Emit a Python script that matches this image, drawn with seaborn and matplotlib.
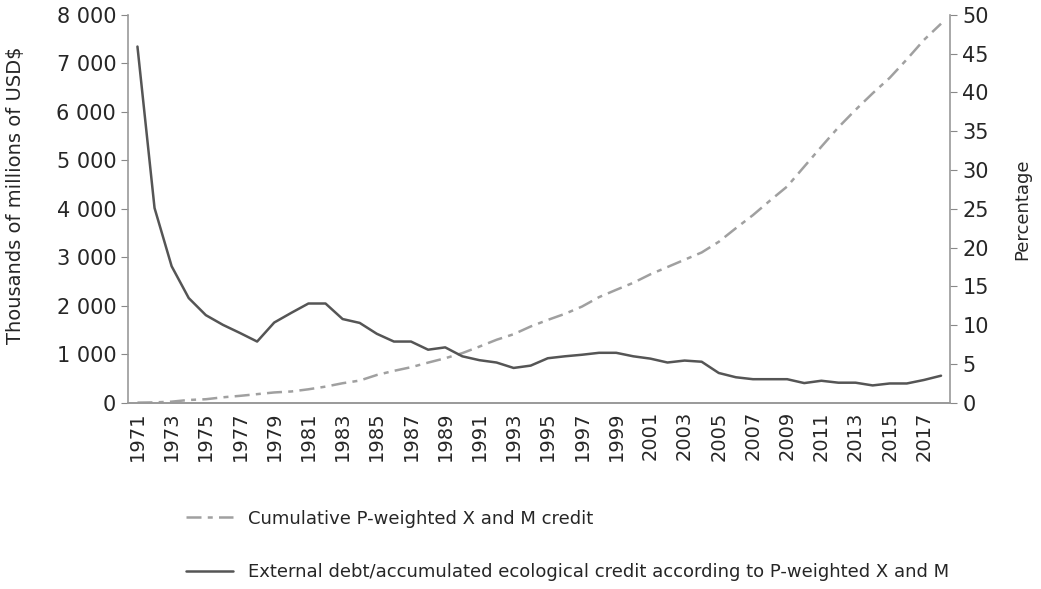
import seaborn as sns
import matplotlib.pyplot as plt
from matplotlib.ticker import FuncFormatter, MultipleLocator
import pandas as pd

# datos
years = list(range(1971, 2019))
cum_credit = [5, 10, 25, 60, 75, 115, 145, 180, 215, 235,
              280, 335, 405, 460, 575, 660, 735, 830, 920, 1025,
              1160, 1300, 1415, 1575, 1710, 1835, 1985, 2180, 2330, 2475,
              2650, 2800, 2950, 3100, 3320, 3600, 3870, 4170, 4460, 4870,
              5280, 5680, 6040, 6380, 6700, 7080, 7480, 7815]
debt_ratio = [45.9, 25.1, 17.6, 13.5, 11.3, 10.05, 9.0, 7.9, 10.35, 11.6,
              12.8, 12.8, 10.8, 10.3, 8.9, 7.9, 7.9, 6.85, 7.15, 6.0,
              5.5, 5.2, 4.5, 4.8, 5.75, 6.0, 6.2, 6.45, 6.45, 6.0,
              5.7, 5.2, 5.45, 5.3, 3.85, 3.3, 3.05, 3.05, 3.05, 2.55,
              2.85, 2.6, 2.6, 2.25, 2.5, 2.5, 2.95, 3.5]
label_cum = "Cumulative P-weighted X and M credit"
label_debt = "External debt/accumulated ecological credit according to P-weighted X and M"

df = pd.DataFrame({"year": years, "cum": cum_credit, "ratio": debt_ratio})

sns.set_style("white")
plt.rcParams['font.family'] = ['DejaVu Sans']

fig = plt.figure(figsize=(10.41, 5.89), dpi=100)
ax = fig.add_axes([0.123, 0.316, 0.790, 0.659])
ax2 = ax.twinx()

# linea punto-raya en eje izquierdo
sns.lineplot(data=df, x="year", y="cum", ax=ax, color="#a0a0a0", lw=1.8,
             linestyle=(0, (6, 2.5, 2, 2.5)), label=label_cum, legend=False)
# linea solida en eje derecho
sns.lineplot(data=df, x="year", y="ratio", ax=ax2, color="#555555", lw=1.8,
             label=label_debt, legend=False)

ax.set_xlim(1970.45, 2018.55)
ax.set_ylim(0, 8000)
ax2.set_ylim(0, 50)
ax.yaxis.set_major_locator(MultipleLocator(1000))
ax2.yaxis.set_major_locator(MultipleLocator(5))
ax.yaxis.set_major_formatter(FuncFormatter(lambda v, p: f"{int(v):,}".replace(",", " ")))

ax.set_xticks(years[::2])
ax.set_xticklabels([str(y) for y in years[::2]], rotation=90)
ax.set_xticks([y + 0.5 for y in years[:-1]] + [1970.5], minor=True)
ax.tick_params(axis="x", which="major", length=0, labelsize=14, pad=6)
ax.tick_params(axis="x", which="minor", length=5, color="#888888", direction="inout")
ax.tick_params(axis="y", length=5, color="#888888", labelsize=15, left=True, direction="out")
ax2.tick_params(axis="y", length=5, color="#888888", labelsize=15, right=True, direction="out")

ax.set_xlabel("")
ax.set_ylabel("Thousands of millions of USD$", fontsize=14)
ax.yaxis.set_label_coords(-0.125, 0.535)
ax2.set_ylabel("Percentage", fontsize=13, labelpad=18)

for a in (ax, ax2):
    a.spines["top"].set_visible(False)
    for s in ("left", "right", "bottom"):
        a.spines[s].set_color("#999999")
        a.spines[s].set_linewidth(1.2)
ax.spines["right"].set_visible(False)
ax2.spines["left"].set_visible(False)

h1, l1 = ax.get_legend_handles_labels()
h2, l2 = ax2.get_legend_handles_labels()
fig.legend(h1 + h2, l1 + l2, loc="upper left", bbox_to_anchor=(0.172, 0.147),
           frameon=False, fontsize=13, handlelength=2.6, labelspacing=1.95,
           bbox_transform=fig.transFigure, borderaxespad=0)

fig.savefig("out.png", dpi=100)
